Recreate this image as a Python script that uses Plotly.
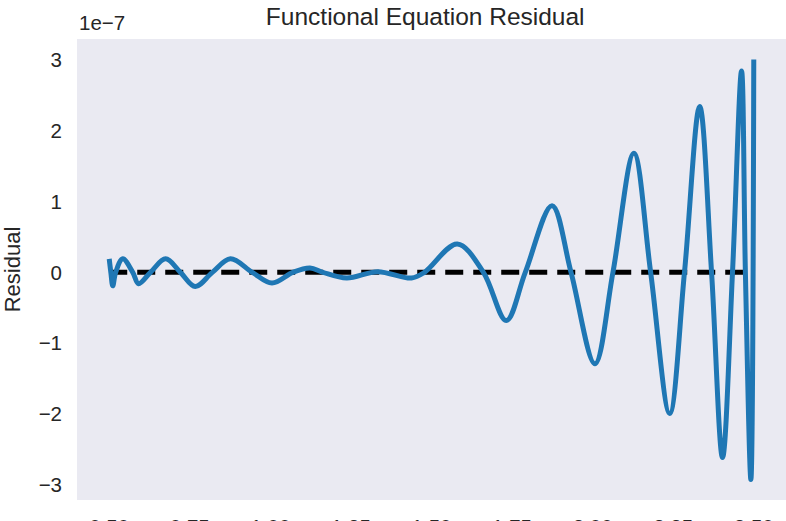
import plotly.graph_objects as go

# Residual of the functional equation, in units of 1e-7
SCALE = 1e-7
x_vals = [0.500, 0.505, 0.511, 0.520, 0.542, 0.573, 0.591, 0.628, 0.675, 0.721,
          0.767, 0.820, 0.876, 0.944, 1.005, 1.070, 1.123, 1.163, 1.237, 1.333,
          1.438, 1.478, 1.580, 1.661, 1.732, 1.791, 1.874, 1.933, 2.007, 2.063,
          2.128, 2.180, 2.239, 2.285, 2.332, 2.369, 2.403, 2.434, 2.462, 2.474,
          2.491, 2.500]
residual = [0.19, 0.0, -0.19, 0.0, 0.19, 0.0, -0.16, 0.0, 0.19, 0.0,
            -0.20, 0.0, 0.19, 0.0, -0.15, 0.0, 0.06, 0.0, -0.08, 0.01,
            -0.08, 0.0, 0.40, 0.0, -0.68, 0.0, 0.94, 0.0, -1.29, 0.0,
            1.68, 0.0, -1.99, 0.0, 2.34, 0.0, -2.61, 0.0, 2.84, 0.0,
            -2.92, 3.00]

zero_x = [0.5, 2.5]
zero_y = [0.0, 0.0]

x_ticks = [0.50, 0.75, 1.00, 1.25, 1.50, 1.75, 2.00, 2.25, 2.50]
x_tick_text = ["0.50", "0.75", "1.00", "1.25", "1.50", "1.75", "2.00", "2.25", "2.50"]
y_ticks = [-3, -2, -1, 0, 1, 2, 3]
y_tick_text = ["\u22123", "\u22122", "\u22121", "0", "1", "2", "3"]

FONT = "Liberation Sans, Arial, sans-serif"

fig = go.Figure()
fig.add_trace(go.Scatter(
    x=zero_x, y=[v * SCALE for v in zero_y], mode="lines",
    line=dict(color="black", width=5, dash="18px,10px"),
    hoverinfo="skip", showlegend=False,
))
fig.add_trace(go.Scatter(
    x=x_vals, y=[v * SCALE for v in residual], mode="lines",
    line=dict(color="#1f77b4", width=5, shape="spline", smoothing=1.0),
    showlegend=False,
))

fig.update_layout(
    width=786, height=521,
    margin=dict(l=77, r=0, t=39, b=21, autoexpand=False),
    paper_bgcolor="white",
    plot_bgcolor="#EAEAF2",
    font=dict(family=FONT, size=20, color="#262626"),
    title=dict(text="Functional Equation Residual", x=0.541, xanchor="center",
               y=0.968, yanchor="middle", font=dict(size=24.5, color="#262626")),
    xaxis=dict(range=[0.4, 2.6], tickvals=x_ticks, ticktext=x_tick_text,
               showgrid=False, zeroline=False, showline=False, ticks="",
               automargin=False, ticklabelstandoff=12, tickfont=dict(size=20.5)),
    yaxis=dict(range=[-3.21 * SCALE, 3.29 * SCALE],
               tickvals=[v * SCALE for v in y_ticks], ticktext=y_tick_text,
               showgrid=False, zeroline=False, showline=False, ticks="",
               automargin=False, ticklabelstandoff=14, tickfont=dict(size=20.5),
               title=dict(text="Residual", standoff=14, font=dict(size=22))),
    annotations=[dict(text="1e\u22127", xref="paper", yref="paper", x=0, y=1,
                      xanchor="left", yanchor="bottom", yshift=3, showarrow=False,
                      font=dict(size=20.5, color="#262626"))],
)

fig.write_html("out.html")
